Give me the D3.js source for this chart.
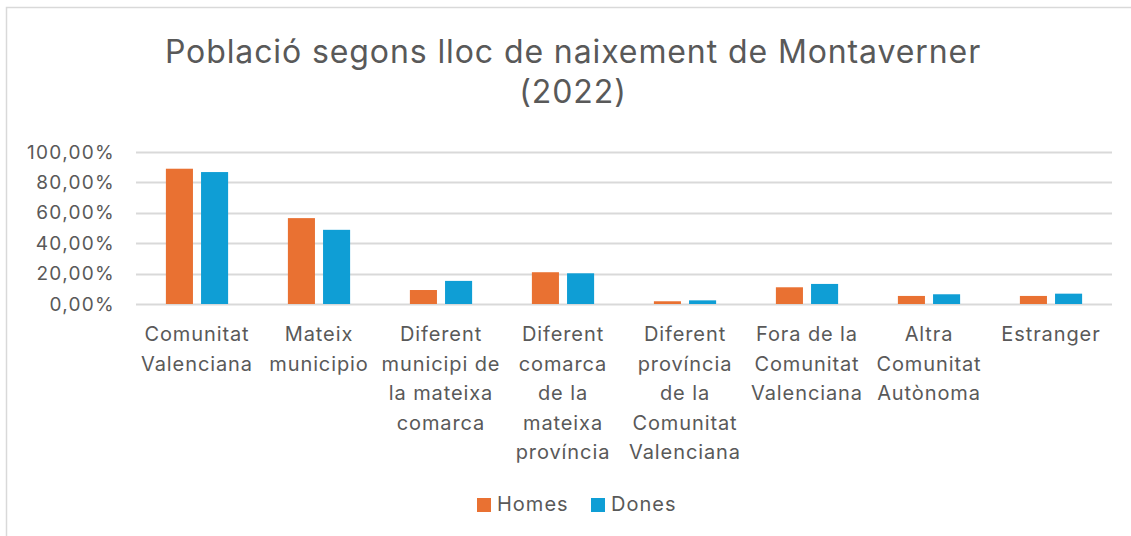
<!DOCTYPE html>
<html>
<head>
<meta charset="utf-8">
<script src="https://cdn.jsdelivr.net/npm/d3@7"></script>
<style>
  body { margin: 0; background: #fff; }
  svg { display: block; font-family: Inter, sans-serif; }
  .grid line { stroke: #d9d9d9; stroke-width: 2; }
  .tick-label, .cat-label, .legend text { fill: #595959; }
</style>
</head>
<body>
<svg id="chart"></svg>
<script>
const width = 1131;
const height = 536;

const categories = [
    ["Comunitat", "Valenciana"],
    ["Mateix", "municipio"],
    ["Diferent", "municipi de", "la mateixa", "comarca"],
    ["Diferent", "comarca", "de la", "mateixa", "província"],
    ["Diferent", "província", "de la", "Comunitat", "Valenciana"],
    ["Fora de la", "Comunitat", "Valenciana"],
    ["Altra", "Comunitat", "Autònoma"],
    ["Estranger"]
];
const homes = [0.890, 0.565, 0.092, 0.209, 0.018, 0.110, 0.053, 0.053];
const dones = [0.868, 0.488, 0.152, 0.202, 0.024, 0.132, 0.064, 0.068];
const seriesNames = ["Homes", "Dones"];
const colors = ["#e97132", "#0f9ed5"];
const yTicks = [0, 0.2, 0.4, 0.6, 0.8, 1.0];

const margin = { left: 136, right: 20, top: 152, bottom: 232 };

const svg = d3.select("#chart")
    .attr("width", width)
    .attr("height", height);

// chart border
svg.append("rect")
    .attr("x", 6.5)
    .attr("y", 7.5)
    .attr("width", width)
    .attr("height", height)
    .attr("fill", "none")
    .attr("stroke", "#d9d9d9")
    .attr("stroke-width", 1.5);

// title
const title = svg.append("text")
    .attr("text-anchor", "middle")
    .attr("fill", "#595959")
    .attr("font-size", 32)
    .attr("letter-spacing", 0.9);
title.append("tspan").attr("x", 573).attr("y", 63).text("Població segons lloc de naixement de Montaverner");
title.append("tspan").attr("x", 573).attr("y", 103).text("(2022)");

const x = d3.scaleBand()
    .domain(d3.range(categories.length))
    .range([margin.left, 1112])
    .paddingInner(0.49)
    .paddingOuter(0.245);

const x1 = d3.scaleBand()
    .domain(seriesNames)
    .range([0, x.bandwidth()])
    .paddingInner(0.23);

const y = d3.scaleLinear()
    .domain([0, 1])
    .range([304, 152]);

// gridlines
svg.append("g")
    .attr("class", "grid")
    .selectAll("line")
    .data(yTicks)
    .join("line")
    .attr("x1", margin.left)
    .attr("x2", 1112)
    .attr("y1", d => Math.round(y(d)) + 0.5)
    .attr("y2", d => Math.round(y(d)) + 0.5);

// y tick labels
const fmt = d => d3.format(".2f")(d * 100).replace(".", ",") + "%";
svg.selectAll(".tick-label")
    .data(yTicks)
    .join("text")
    .attr("class", "tick-label")
    .attr("x", 115)
    .attr("y", d => y(d))
    .attr("dy", "0.35em")
    .attr("text-anchor", "end")
    .attr("font-size", 19)
    .attr("letter-spacing", 1.3)
    .text(fmt);

// bars
const groups = svg.append("g")
    .selectAll("g")
    .data(categories.map((c, i) => i))
    .join("g")
    .attr("transform", i => `translate(${x(i)},0)`);

groups.selectAll("rect")
    .data(i => [{ s: 0, v: homes[i] }, { s: 1, v: dones[i] }])
    .join("rect")
    .attr("x", d => x1(seriesNames[d.s]))
    .attr("width", x1.bandwidth())
    .attr("y", d => y(d.v))
    .attr("height", d => y(0) - y(d.v))
    .attr("fill", d => colors[d.s]);

// category labels
const cat = svg.selectAll(".cat-label")
    .data(categories)
    .join("text")
    .attr("class", "cat-label")
    .attr("text-anchor", "middle")
    .attr("font-size", 20)
    .attr("letter-spacing", 0.9);
cat.selectAll("tspan")
    .data((d, i) => d.map(line => ({ line, i })))
    .join("tspan")
    .attr("x", d => x(d.i) + x.bandwidth() / 2)
    .attr("y", (d, j) => 341 + j * 29.5)
    .text(d => d.line);

// legend
const legend = svg.append("g").attr("class", "legend");
const legendX = [477, 591];
seriesNames.forEach((name, i) => {
    legend.append("rect")
        .attr("x", legendX[i])
        .attr("y", 498)
        .attr("width", 14)
        .attr("height", 14)
        .attr("fill", colors[i]);
    legend.append("text")
        .attr("x", legendX[i] + 20)
        .attr("y", 511)
        .attr("font-size", 20)
        .attr("letter-spacing", 1)
        .text(name);
});
</script>
</body>
</html>
